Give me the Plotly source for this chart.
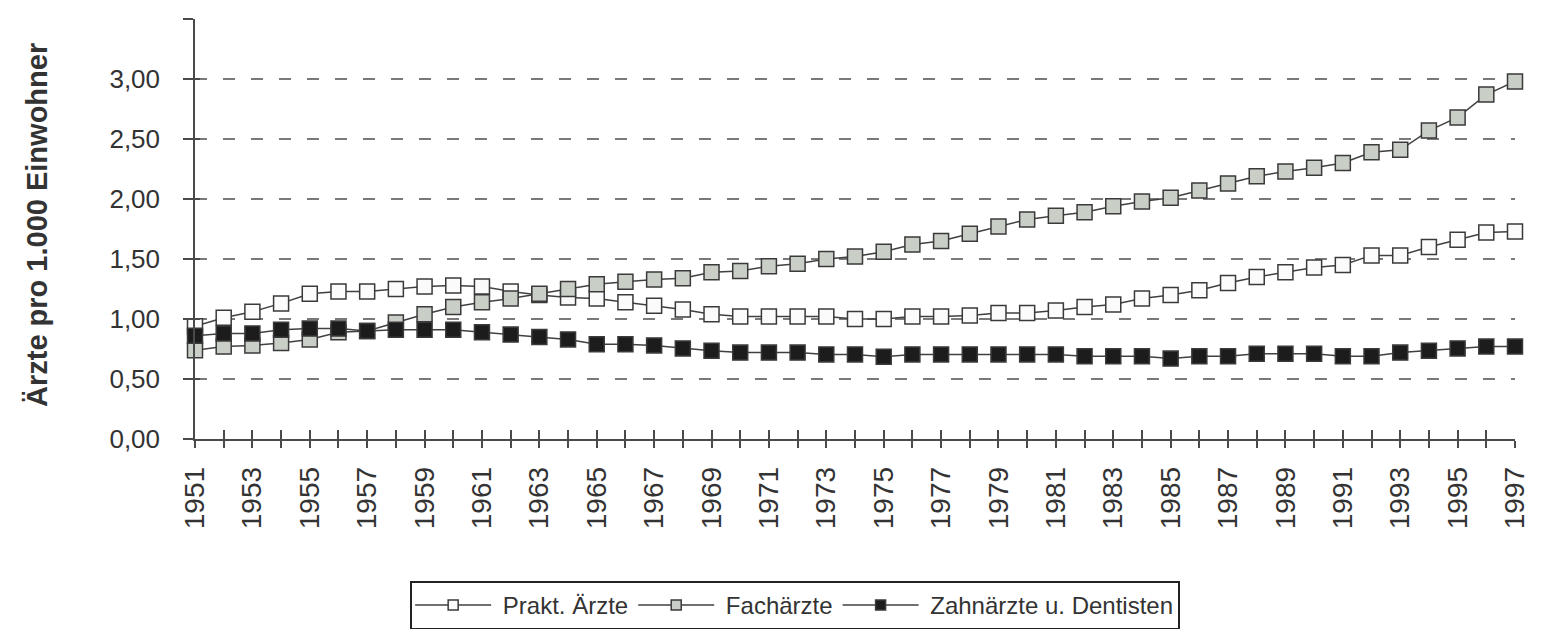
import plotly.graph_objects as go

years = list(range(1951, 1998))

prakt_aerzte = [0.94, 1.01, 1.06, 1.13, 1.21, 1.23, 1.23, 1.25, 1.27, 1.28,
                1.27, 1.23, 1.20, 1.18, 1.17, 1.14, 1.11, 1.08, 1.04, 1.02,
                1.02, 1.02, 1.02, 1.00, 1.00, 1.02, 1.02, 1.03, 1.05, 1.05,
                1.07, 1.10, 1.12, 1.17, 1.20, 1.24, 1.30, 1.35, 1.39, 1.43,
                1.45, 1.53, 1.53, 1.60, 1.66, 1.72, 1.73]

fachaerzte = [0.74, 0.77, 0.78, 0.80, 0.83, 0.89, 0.90, 0.97, 1.04, 1.10,
              1.14, 1.17, 1.21, 1.25, 1.29, 1.31, 1.33, 1.34, 1.39, 1.40,
              1.44, 1.46, 1.50, 1.52, 1.56, 1.62, 1.65, 1.71, 1.77, 1.83,
              1.86, 1.89, 1.94, 1.98, 2.01, 2.07, 2.13, 2.19, 2.23, 2.26,
              2.30, 2.39, 2.41, 2.57, 2.68, 2.87, 2.98]

zahnaerzte = [0.86, 0.88, 0.88, 0.91, 0.92, 0.92, 0.90, 0.91, 0.91, 0.91,
              0.89, 0.87, 0.85, 0.83, 0.79, 0.79, 0.78, 0.755, 0.735, 0.72,
              0.72, 0.72, 0.705, 0.705, 0.685, 0.705, 0.705, 0.705, 0.705, 0.705,
              0.705, 0.69, 0.69, 0.69, 0.67, 0.69, 0.69, 0.71, 0.71, 0.71,
              0.69, 0.69, 0.72, 0.735, 0.755, 0.77, 0.77]

series_names = ["Prakt. Ärzte", "Fachärzte", "Zahnärzte u. Dentisten"]
series_fills = ["#fbfbfb", "#c9cec6", "#1c1c1c"]

y_tickvals = [0, 0.5, 1.0, 1.5, 2.0, 2.5, 3.0, 3.5]
y_ticktext = ["0,00", "0,50", "1,00", "1,50", "2,00", "2,50", "3,00", ""]
grid_vals = [0.5, 1.0, 1.5, 2.0, 2.5, 3.0]
x_ticktext = [str(y) if (y - 1951) % 2 == 0 else "" for y in years]

FONT = "Liberation Sans, Arial, Helvetica, sans-serif"
TXT = "#333333"
AX = "#4a4a4a"

fig = go.Figure()
for name, vals, fill in zip(series_names, [prakt_aerzte, fachaerzte, zahnaerzte], series_fills):
    fig.add_trace(go.Scatter(
        x=years, y=vals, name=name, mode="lines+markers", showlegend=False,
        legendgroup=name,
        line=dict(color="#404040", width=1.5),
        marker=dict(symbol="square", size=15, color=fill,
                    line=dict(color="#3a3a3a", width=1.5)),
        cliponaxis=False,
    ))
# legend entries with the smaller legend symbols of the original
for name, fill in zip(series_names, series_fills):
    fig.add_trace(go.Scatter(
        x=[None], y=[None], name="\u00a0" + name, mode="lines+markers",
        legendgroup=name, hoverinfo="skip",
        line=dict(color="#404040", width=1.5),
        marker=dict(symbol="square", size=10, color=fill,
                    line=dict(color="#3a3a3a", width=1.5)),
    ))

# invisible helper trace for overlay axes (inside tick halves)
fig.add_trace(go.Scatter(x=[years[0]], y=[None], xaxis="x2", yaxis="y2",
                         showlegend=False, hoverinfo="skip", mode="lines"))

# dashed gridlines
for v in grid_vals:
    fig.add_shape(type="line", xref="paper", x0=0, x1=1, yref="y", y0=v, y1=v,
                  line=dict(color="#7a7a7a", width=2, dash="12px,16px"), layer="below")

fig.update_layout(
    width=1537, height=621,
    margin=dict(l=187, r=30, t=11, b=190, autoexpand=False),
    paper_bgcolor="white", plot_bgcolor="white",
    font=dict(family=FONT, color=TXT),
    showlegend=True,
    legend=dict(orientation="h", xanchor="left", x=0.163, yanchor="top", y=-0.338,
                bordercolor="#222222", borderwidth=2, bgcolor="white",
                font=dict(size=24, color=TXT, family=FONT),
                itemwidth=76, tracegroupgap=0),
    xaxis=dict(range=[1951, 1997], tickvals=years, ticktext=x_ticktext,
               tickangle=-90, ticks="outside", ticklen=7, tickwidth=1.5, tickcolor=AX,
               showline=True, linecolor=AX, linewidth=1.5, showgrid=False, zeroline=False,
               tickfont=dict(size=28, color=TXT), ticklabelstandoff=8, automargin=False),
    yaxis=dict(range=[0, 3.5], tickvals=y_tickvals, ticktext=y_ticktext,
               ticks="outside", ticklen=10, tickwidth=1.5, tickcolor=AX,
               showline=True, linecolor=AX, linewidth=1.5, showgrid=False, zeroline=False,
               tickfont=dict(size=26, color=TXT), ticklabelstandoff=18, automargin=False),
    xaxis2=dict(overlaying="x", range=[1951, 1997], tickvals=years, showticklabels=False,
                ticks="inside", ticklen=9, tickwidth=1.5, tickcolor=AX, side="bottom",
                showline=False, showgrid=False, zeroline=False),
    yaxis2=dict(overlaying="y", range=[0, 3.5], tickvals=y_tickvals, showticklabels=False,
                ticks="inside", ticklen=5, tickwidth=1.5, tickcolor=AX, side="left",
                showline=False, showgrid=False, zeroline=False),
    annotations=[dict(text="<b>Ärzte pro 1.000 Einwohner</b>", textangle=-90,
                      xref="paper", yref="paper", x=-0.1197, y=0.5095,
                      xanchor="center", yanchor="middle", showarrow=False,
                      font=dict(size=29, color=TXT, family=FONT))],
)

fig.write_html("out.html")
